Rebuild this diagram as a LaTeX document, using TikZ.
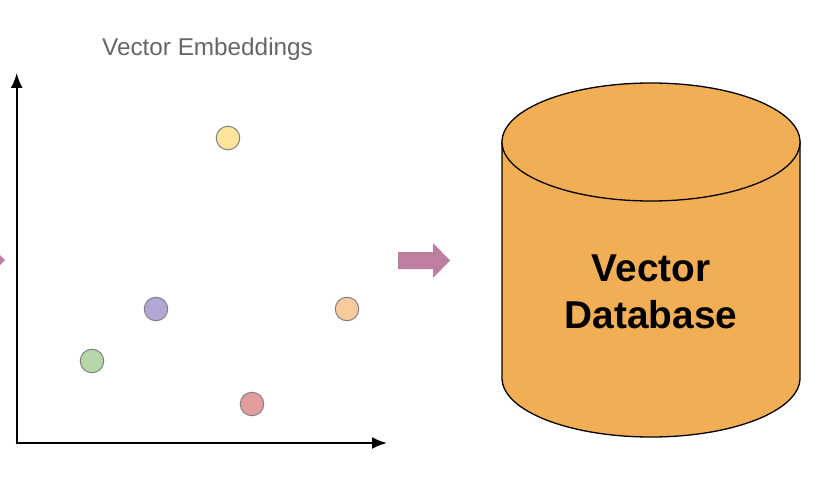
\documentclass[tikz,border=0pt]{standalone}
\usepackage{fontspec}
\setmainfont{Liberation Sans}
\usetikzlibrary{arrows.meta}
\begin{document}
\begin{tikzpicture}[x=1pt,y=-1pt,
  dot/.style={circle,draw=black!50,line width=1pt,minimum size=23.5pt,inner sep=0pt},
  axis/.style={line width=2pt,-{Latex[length=15pt,width=12pt]}},
  flow/.style={fill=arrowpink,draw=none}]
\useasboundingbox (0,0) rectangle (826,476);
\definecolor{arrowpink}{HTML}{BD7EA0}
\definecolor{dbfill}{HTML}{F2AE55}
\definecolor{cy}{HTML}{FFE599}
\definecolor{cp}{HTML}{B4A7D6}
\definecolor{co}{HTML}{F9CB9C}
\definecolor{cg}{HTML}{B6D7A8}
\definecolor{cr}{HTML}{E39C9C}
% title
\node[text=black!60,font=\fontsize{24.3}{29}\selectfont] (title) at (207.5,49.5) {Vector Embeddings};
% axes
\coordinate (o) at (16.7,443);
\coordinate (ytop) at (16.7,73);
\coordinate (xend) at (387,443);
\draw[axis] ([yshift=1pt]o) -- (ytop);
\draw[axis] ([xshift=-1pt]o) -- (xend);
% dots
\node[dot,fill=cy] (d1) at (228,138) {};
\node[dot,fill=cp] (d2) at (156,309) {};
\node[dot,fill=co] (d3) at (347,309) {};
\node[dot,fill=cg] (d4) at (92,361) {};
\node[dot,fill=cr] (d5) at (252,404) {};
% arrow into left edge
\fill[flow] (-12,243) -- (5,260) -- (-12,277) -- cycle;
% arrow to database
\fill[flow] (398,252) -- (433,252) -- (433,243) -- (450,260.5) -- (433,278) -- (433,269) -- (398,269) -- cycle;
% database cylinder
\filldraw[fill=dbfill,draw=black,line width=1.3pt]
  (502,142) -- (502,378) arc[start angle=180,end angle=360,x radius=149,y radius=-59] -- (800,142) -- cycle;
\filldraw[fill=dbfill,draw=black,line width=1.3pt] (651,142) ellipse[x radius=149,y radius=59];
\node[font=\bfseries\fontsize{38.8}{47}\selectfont,align=center] (db) at (651,292) {Vector\\Database};
\end{tikzpicture}
\end{document}
